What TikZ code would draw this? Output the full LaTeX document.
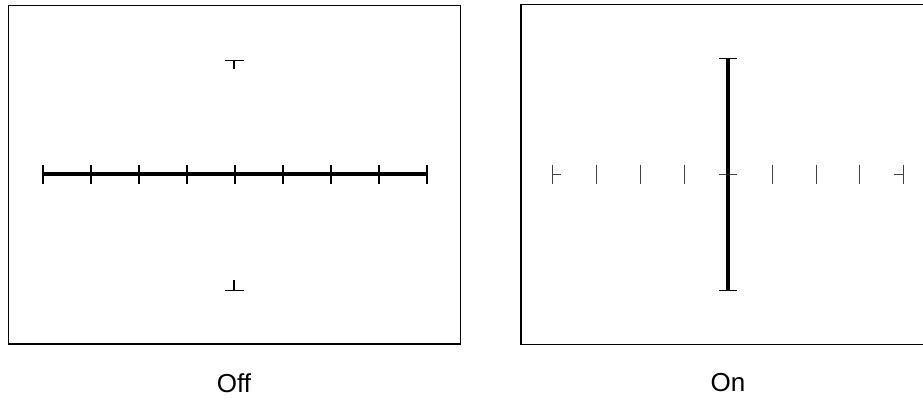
\documentclass[tikz,border=0pt]{standalone}
\usepackage{fontspec}
\setmainfont{Liberation Sans}
\usetikzlibrary{arrows.meta,calc}

\begin{document}
\begin{tikzpicture}[x=0.75pt, y=-0.75pt, >=Stealth]
\clip (0,0) rectangle (923,408);
\useasboundingbox (0,0) rectangle (923,408);

% screens
\draw[line width=0.8pt] (8.5,5.5) rectangle (460.5,344);
\draw[line width=0.8pt] (521,4.5) rectangle (930,344.5);

% Off: flat trace with graticule ticks
\draw[line width=3pt] (43,174) coordinate(L) -- (427,174) coordinate(R);
\foreach \x in {43,91,...,427}
  \draw[line width=0.9pt] (\x,165) -- (\x,184);
\draw[line width=0.7pt] (225,60) -- (244,60);
\draw[line width=1pt] (234,60) -- (234,69);
\draw[line width=0.7pt] (225,290) -- (244,290);
\draw[line width=1pt] (234,280) -- (234,290);
\node[font=\fontsize{19.5}{22}\selectfont] (off) at (234,383) {Off};

% On: vertical trace with graticule ticks
\foreach \x in {552.5,596,640,684,772,816,859,903}
  \draw[line width=0.7pt, black!75] (\x,164.5) -- (\x,183.5);
\draw[line width=0.7pt, black!75] (552.5,174) -- (561,174);
\draw[line width=0.7pt, black!75] (894,174) -- (903,174);
\draw[line width=0.7pt, black!75] (719,174) -- (737,174);
\draw[line width=3pt] (728,59) coordinate(T) -- (728,290) coordinate(B);
\draw[line width=0.7pt] (719,58.5) -- (737,58.5);
\draw[line width=0.7pt] (719,290) -- (737,290);
\node[font=\fontsize{19.5}{22}\selectfont] (on) at (728,383) {On};
\end{tikzpicture}
\end{document}
